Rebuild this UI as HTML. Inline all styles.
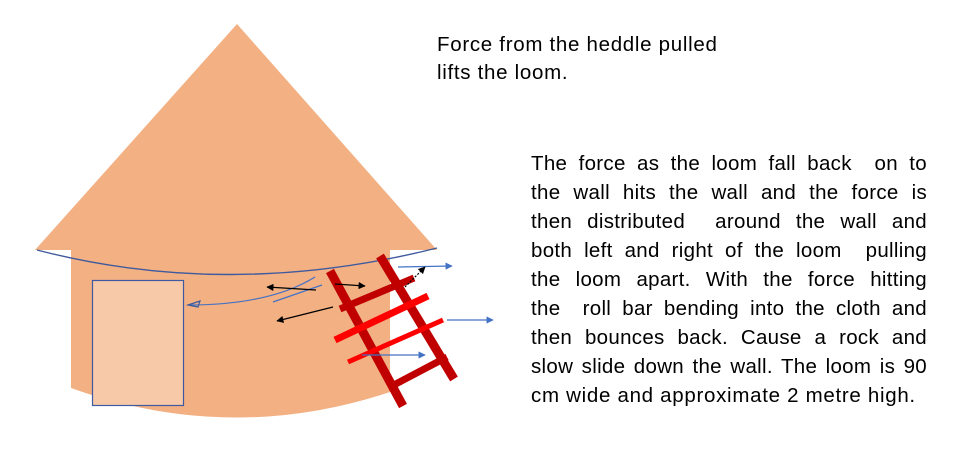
<!DOCTYPE html>
<html><head><style>
body{margin:0;width:972px;height:466px;background:#fff;position:relative;overflow:hidden;font-family:"Liberation Sans",sans-serif;color:#000}
.t{position:absolute;font-size:20.5px;line-height:28px;white-space:nowrap;letter-spacing:0.7px}
.p{position:absolute;left:531px;top:149px;width:396px;font-size:20.5px;line-height:29px;letter-spacing:0.3px}
.p div{text-align:justify;text-align-last:justify;white-space:nowrap}
.p div.l{text-align-last:left;letter-spacing:0.7px}
</style></head><body>
<svg width="972" height="466" style="position:absolute;left:0;top:0">
<defs>
<marker id="ab" viewBox="0 0 10 10" refX="9" refY="5" markerWidth="6" markerHeight="6" orient="auto"><path d="M0,0L10,5L0,10z" fill="#4472c4"/></marker>
<marker id="ak" viewBox="0 0 10 10" refX="9" refY="5" markerWidth="6" markerHeight="6" orient="auto"><path d="M0,0L10,5L0,10z" fill="#000"/></marker>
</defs>
<path d="M71,250 L390,250 L390,392 Q230,445 71,388 Z" fill="#f2b083"/>
<polygon points="237,24 35,250 437,250" fill="#f2b083"/>
<rect x="92.5" y="280.5" width="91" height="125" fill="#f7c9a9" stroke="#3f5a9e" stroke-width="1.2"/>
<path d="M37,250 Q230,300 437,248" fill="none" stroke="#3f5a9e" stroke-width="1.4"/>
<path d="M188,305 Q270,305 315,277" fill="none" stroke="#4472c4" stroke-width="1.2"/>
<path d="M188,305 L200,301 L198,307 Z" fill="none" stroke="#3f5a9e" stroke-width="1.2"/>
<line x1="322" y1="285" x2="273" y2="302" stroke="#4472c4" stroke-width="1.2"/>
<g stroke-linecap="butt">
<line x1="330" y1="271" x2="403" y2="406" stroke="#c00000" stroke-width="9"/>
<line x1="380" y1="256" x2="454" y2="379" stroke="#c00000" stroke-width="9"/>
<line x1="340" y1="309" x2="414" y2="278" stroke="#c00000" stroke-width="7"/>
<line x1="335" y1="340" x2="428" y2="296" stroke="#ff0000" stroke-width="7"/>
<line x1="348" y1="362" x2="443" y2="320" stroke="#ff0000" stroke-width="5"/>
<line x1="390" y1="387" x2="447" y2="357" stroke="#c00000" stroke-width="7"/>
</g>
<line x1="398" y1="267" x2="452" y2="266" stroke="#4472c4" stroke-width="1.2" marker-end="url(#ab)"/>
<line x1="447" y1="320" x2="493" y2="320" stroke="#4472c4" stroke-width="1.2" marker-end="url(#ab)"/>
<line x1="362" y1="355" x2="425" y2="355" stroke="#4472c4" stroke-width="1.2" marker-end="url(#ab)"/>
<line x1="316" y1="290" x2="267" y2="287" stroke="#000" stroke-width="1.2" marker-end="url(#ak)"/>
<line x1="335" y1="284" x2="365" y2="286" stroke="#000" stroke-width="1.2" marker-end="url(#ak)"/>
<line x1="333" y1="307" x2="277" y2="321" stroke="#000" stroke-width="1.2" marker-end="url(#ak)"/>
<line x1="405" y1="287" x2="425" y2="267" stroke="#000" stroke-width="1.2" stroke-dasharray="2,1.5" marker-end="url(#ak)"/>
</svg>
<div class="t" style="left:437px;top:31px">Force from the heddle pulled</div>
<div class="t" style="left:437px;top:59px">lifts the loom.</div>
<div class="p">
<div>The force as the loom fall back &nbsp;on to</div>
<div>the wall hits the wall and the force is</div>
<div>then distributed &nbsp;around the wall and</div>
<div>both left and right of the loom &nbsp;pulling</div>
<div>the loom apart. With the force hitting</div>
<div>the &nbsp;roll bar bending into the cloth and</div>
<div>then bounces back. Cause a rock and</div>
<div>slow slide down the wall. The loom is 90</div>
<div class="l">cm wide and approximate 2 metre high.</div>
</div>
</body></html>
